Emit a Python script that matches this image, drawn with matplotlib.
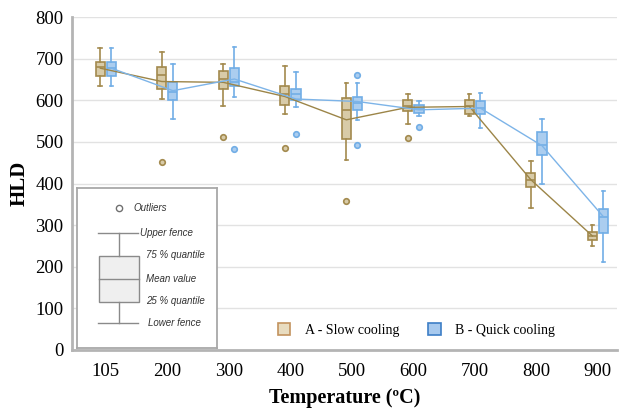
import matplotlib
matplotlib.use("Agg")
import matplotlib.pyplot as plt
from matplotlib.patches import Patch, Rectangle
import numpy as np

# temperatures (categories)
temps = ["105", "200", "300", "400", "500", "600", "700", "800", "900"]

# A - slow cooling: whisker low, q1, box line, q3, whisker high
a_low = [635, 603, 585, 567, 457, 543, 563, 342, 250]
a_q1 = [659, 628, 628, 589, 506, 573, 567, 391, 264]
a_mid = [680, 661, 651, 615, 577, 587, 585, 409, 274]
a_q3 = [693, 680, 671, 635, 605, 601, 601, 426, 284]
a_high = [725, 717, 687, 683, 641, 615, 614, 453, 300]
a_out = [[], [451], [511], [485], [359], [510], [], [], []]
a_mean = [677, 645, 643, 609, 553, 583, 585, 409, 274]

# B - quick cooling
b_low = [635, 555, 609, 583, 553, 563, 533, 399, 211]
b_q1 = [659, 601, 635, 601, 577, 570, 567, 468, 282]
b_mid = [677, 620, 645, 615, 593, 579, 581, 493, 320]
b_q3 = [693, 643, 677, 627, 607, 588, 597, 523, 338]
b_high = [725, 687, 728, 669, 641, 598, 617, 556, 381]
b_out = [[], [], [482], [520], [661, 492], [535], [], [], []]
b_mean = [677, 623, 651, 603, 597, 577, 581, 491, 320]

plt.rcParams["font.family"] = ["Liberation Serif", "DejaVu Serif"]

fig = plt.figure(figsize=(6.24, 4.13), dpi=100)
ax = fig.add_axes([72 / 624, 1 - 350 / 413, 545 / 624, 333 / 413])

x = np.arange(len(temps))
off = 0.09
w = 0.15


def stats(lo, q1, mid, q3, hi, out):
    return [dict(whislo=lo[i], q1=q1[i], med=mid[i], q3=q3[i], whishi=hi[i],
                 fliers=out[i]) for i in range(len(lo))]


groups = [
    (stats(a_low, a_q1, a_mid, a_q3, a_high, a_out), x - off, "#a38a4e", "#d8cba8", a_mean, "#9c8548"),
    (stats(b_low, b_q1, b_mid, b_q3, b_high, b_out), x + off, "#72aee6", "#abcdef", b_mean, "#7db4e8"),
]
for st, pos, ec, fc, mean, lc in groups:
    ax.plot(pos, mean, color=lc, lw=1.0, zorder=4)
    ax.bxp(st, positions=pos, widths=w, capwidths=0.06, patch_artist=True,
           boxprops=dict(facecolor=fc, edgecolor=ec, lw=1.2),
           medianprops=dict(color=ec, lw=1.2),
           whiskerprops=dict(color=ec, lw=1.2),
           capprops=dict(color=ec, lw=1.2),
           flierprops=dict(marker="o", markersize=4, markerfacecolor=fc,
                           markeredgecolor=ec, markeredgewidth=1.2),
           manage_ticks=False, zorder=3)

ax.set_xlim(-0.55, 8.31)
ax.set_ylim(0, 800)
ax.set_xticks(x)
ax.set_xticklabels(temps)
ax.set_yticks(range(0, 801, 100))
ax.tick_params(length=0, labelsize=13.5)
ax.tick_params(axis="x", pad=9)
ax.tick_params(axis="y", pad=6)
ax.yaxis.grid(True, color="#e2e2e2", lw=1.0)
ax.set_axisbelow(True)
for s in ["top", "right"]:
    ax.spines[s].set_visible(False)
for s in ["left", "bottom"]:
    ax.spines[s].set_color("#b4b4b4")
    ax.spines[s].set_linewidth(2)

ax.set_ylabel("HLD", fontsize=15, fontweight="bold", labelpad=4)
ax.set_xlabel("Temperature (ºC)", fontsize=14.5, fontweight="bold", labelpad=6)

# legend for groups
handles = [Patch(facecolor="#e8dcc0", edgecolor="#c2925e", lw=1.2, label="A - Slow cooling"),
           Patch(facecolor="#a7c9ee", edgecolor="#3d7ec6", lw=1.2, label="B - Quick cooling")]
fig.legend(handles=handles, loc="center left", bbox_to_anchor=(265 / 624, 1 - 330 / 413),
           ncol=2, frameon=False, fontsize=10, handlelength=0.9, handleheight=0.9,
           columnspacing=2.1, handletextpad=1.05)

# explanation box (pixel coordinates)
ins = fig.add_axes([77 / 624, 1 - 348 / 413, 140 / 624, 160 / 413])
ins.set_xlim(77, 217)
ins.set_ylim(348, 188)
ins.set_xticks([])
ins.set_yticks([])
for s in ins.spines.values():
    s.set_color("#a8a8a8")
    s.set_linewidth(1.3)
g = "#8a8a8a"
ins.plot([119], [208], "o", ms=4.5, mfc="white", mec="#707070", mew=1)
ins.plot([98, 138], [233, 233], color=g, lw=1)
ins.plot([98, 138], [323, 323], color=g, lw=1)
ins.plot([119, 119], [233, 256], color=g, lw=1)
ins.plot([119, 119], [302, 323], color=g, lw=1)
ins.add_patch(Rectangle((99, 256), 40, 46, facecolor="#efefef", edgecolor=g, lw=1))
ins.plot([99, 139], [279, 279], color=g, lw=1)
tk = dict(fontsize=7, style="italic", family=["Liberation Sans", "DejaVu Sans"],
          color="#333333", va="center")
ins.text(133, 208, "Outliers", **tk)
ins.text(140, 233, "Upper fence", **tk)
ins.text(146, 255, "75 % quantile", **tk)
ins.text(146, 279, "Mean value", **tk)
ins.text(146, 301, "25 % quantile", **tk)
ins.text(148, 323, "Lower fence", **tk)

fig.savefig("out.png", dpi=100)
